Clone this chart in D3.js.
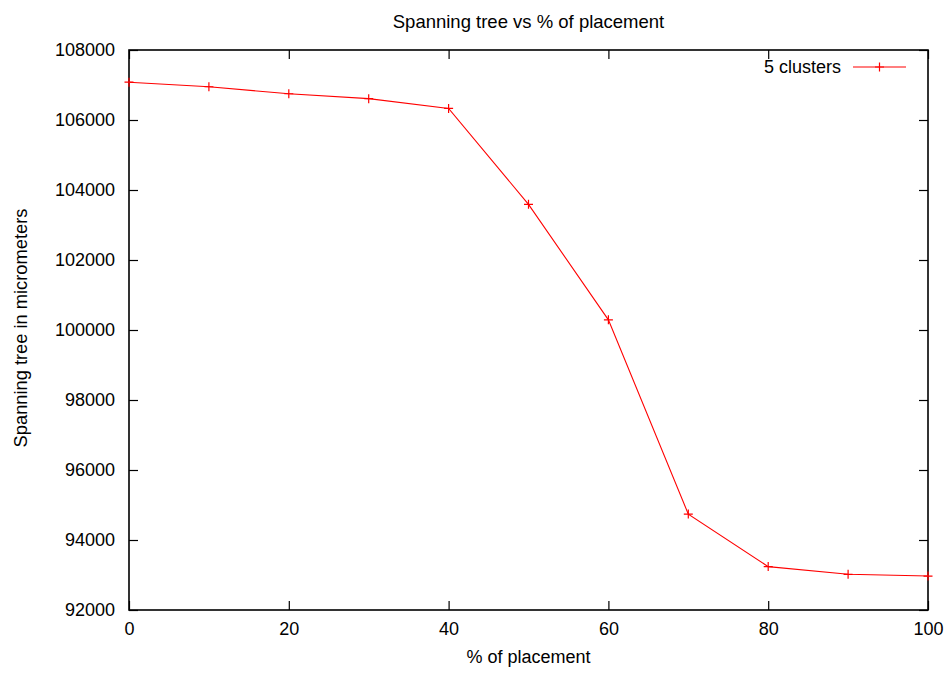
<!DOCTYPE html>
<html>
<head>
<meta charset="utf-8">
<script src="https://cdn.jsdelivr.net/npm/d3@7"></script>
<style>
  body { margin: 0; background: #fff; }
  svg text { font-family: "Liberation Sans", Arial, Helvetica, sans-serif; fill: #000; }
</style>
</head>
<body>
<svg id="chart" width="952" height="673"></svg>
<script>
// Placement percentage vs spanning tree length
const placement = [0, 10, 20, 30, 40, 50, 60, 70, 80, 90, 100];
const spanningTree = [107080, 106950, 106750, 106610, 106330, 103590, 100290, 94740, 93240, 93020, 92970];
const xTicks = [0, 20, 40, 60, 80, 100];
const yTicks = [92000, 94000, 96000, 98000, 100000, 102000, 104000, 106000, 108000];
const seriesName = "5 clusters";

const svg = d3.select("#chart");
const plotL = 129, plotR = 928, plotT = 50, plotB = 610;
const tickLen = 9;
const fontSize = "18px";

const x = d3.scaleLinear().domain([0, 100]).range([plotL, plotR]);
const y = d3.scaleLinear().domain([92000, 108000]).range([plotB, plotT]);

// Title
svg.append("text").attr("x", (plotL + plotR) / 2).attr("y", 28)
  .attr("text-anchor", "middle").style("font-size", "18.5px")
  .text("Spanning tree vs % of placement");

// Bottom axis with inward ticks, plus mirrored ticks on top
const gx = svg.append("g").attr("transform", `translate(0,${plotB})`)
  .call(d3.axisBottom(x).tickValues(xTicks).tickSizeInner(-tickLen).tickSizeOuter(0).tickPadding(12));
const gxTop = svg.append("g").attr("transform", `translate(0,${plotT})`)
  .call(d3.axisTop(x).tickValues(xTicks).tickSizeInner(-tickLen).tickSizeOuter(0).tickFormat(""));

const gy = svg.append("g").attr("transform", `translate(${plotL},0)`)
  .call(d3.axisLeft(y).tickValues(yTicks).tickSizeInner(-tickLen).tickSizeOuter(0).tickPadding(14).tickFormat(d3.format("d")));
const gyRight = svg.append("g").attr("transform", `translate(${plotR},0)`)
  .call(d3.axisRight(y).tickValues(yTicks).tickSizeInner(-tickLen).tickSizeOuter(0).tickFormat(""));

[gx, gxTop, gy, gyRight].forEach(g => {
  g.select(".domain").remove();
  g.selectAll(".tick line").attr("stroke", "#000").attr("stroke-width", 1.2);
  g.selectAll(".tick text").style("font-size", fontSize).attr("fill", "#000");
});

// Plot border
svg.append("rect").attr("x", plotL).attr("y", plotT)
  .attr("width", plotR - plotL).attr("height", plotB - plotT)
  .attr("fill", "none").attr("stroke", "#000").attr("stroke-width", 1.6);

// Axis labels
svg.append("text").attr("x", (plotL + plotR) / 2).attr("y", 663)
  .attr("text-anchor", "middle").style("font-size", fontSize).text("% of placement");
svg.append("text").attr("transform", `translate(27,${(plotT + plotB) / 2 - 2}) rotate(-90)`)
  .attr("text-anchor", "middle").style("font-size", "18.3px").text("Spanning tree in micrometers");

// Series line and "+" markers
const pts = placement.map((p, i) => [p, spanningTree[i]]);
svg.append("path").datum(pts)
  .attr("fill", "none").attr("stroke", "#ff0000").attr("stroke-width", 1.1)
  .attr("d", d3.line().x(d => x(d[0])).y(d => y(d[1])));

const plus = (g, cx, cy) => {
  g.append("path").attr("d", `M${cx - 4.5},${cy}H${cx + 4.5}M${cx},${cy - 4.5}V${cy + 4.5}`)
    .attr("stroke", "#ff0000").attr("stroke-width", 1.2).attr("fill", "none");
};
const marks = svg.append("g");
pts.forEach(d => plus(marks, x(d[0]), y(d[1])));

// Legend
const ly = 67;
svg.append("text").attr("x", 841).attr("y", 73)
  .attr("text-anchor", "end").style("font-size", fontSize).text(seriesName);
svg.append("line").attr("x1", 853).attr("x2", 906).attr("y1", ly).attr("y2", ly)
  .attr("stroke", "#ff0000").attr("stroke-width", 1.1);
plus(svg, 879.5, ly);
</script>
</body>
</html>
